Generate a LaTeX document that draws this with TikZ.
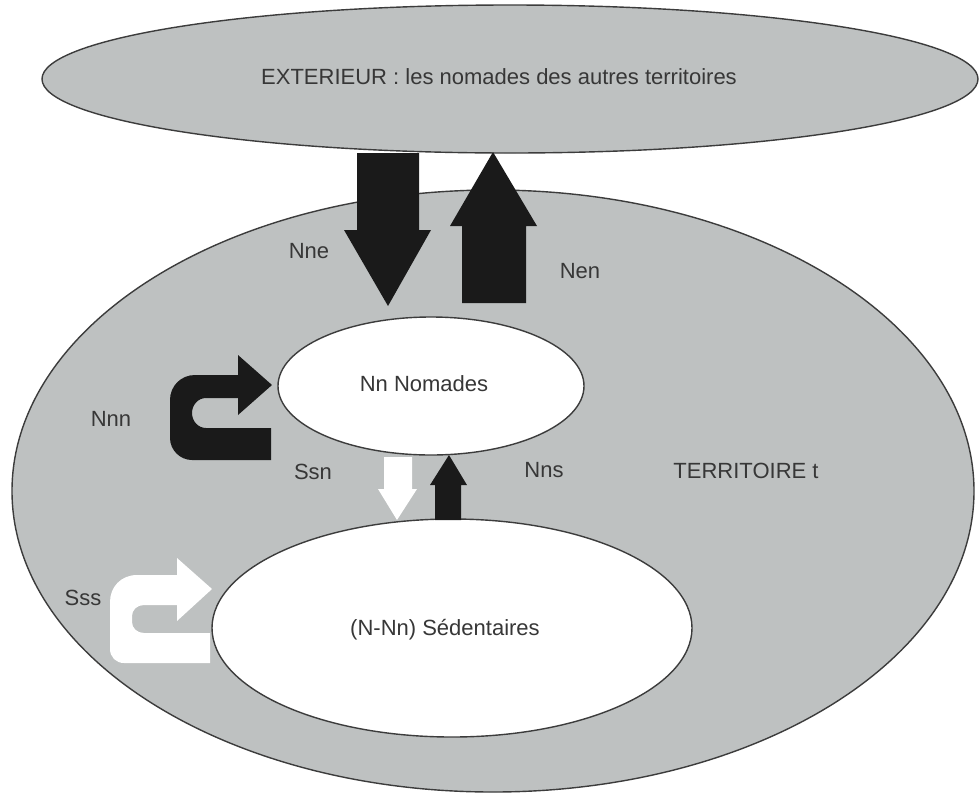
\documentclass[tikz,border=0pt]{standalone}
\usepackage{fontspec}
\setmainfont{Liberation Sans}
\usetikzlibrary{shapes.geometric}
\definecolor{zonegray}{RGB}{190,193,193}
\definecolor{edgegray}{RGB}{60,60,60}
\definecolor{inkblack}{RGB}{26,26,26}
\definecolor{txtgray}{RGB}{55,55,55}
\begin{document}
\begin{tikzpicture}[x=1pt,y=-1pt,
  zone/.style={ellipse, draw=edgegray, line width=1.4pt, inner sep=0pt},
  lbl/.style={font=\fontsize{22}{26}\selectfont, text=txtgray, inner sep=0pt},
  blk/.style={fill=inkblack},
  wht/.style={fill=white}]
\fill[white] (0,0) rectangle (980,796);
\useasboundingbox (0,0) rectangle (980,796);
% zones
\node[zone, fill=zonegray, minimum width=936pt, minimum height=148pt] (ext) at (510,79) {};
\node[zone, fill=zonegray, minimum width=962pt, minimum height=602pt] (terr) at (493,491) {};
\node[zone, fill=white, minimum width=306pt, minimum height=138pt] (nom) at (431,386) {};
\node[zone, fill=white, minimum width=480pt, minimum height=218pt] (sed) at (452,628) {};
% texts
\node[lbl] (tExt) at (499,77) {EXTERIEUR : les nomades des autres territoires};
\node[lbl] (tNom) at (424,384) {Nn Nomades};
\node[lbl] (tSed) at (445,630) {(N-Nn) Sédentaires};
\node[lbl] (tTerr) at (746,471) {TERRITOIRE t};
\node[lbl] (tNne) at (309,251) {Nne};
\node[lbl] (tNen) at (580,271) {Nen};
\node[lbl] (tNnn) at (111,419) {Nnn};
\node[lbl] (tSsn) at (313,472) {Ssn};
\node[lbl] (tNns) at (544,470) {Nns};
\node[lbl] (tSss) at (83,598) {Sss};
% big arrows between exterior and territory
\fill[blk] (357,153) -- (419,153) -- (419,230) -- (431,230) -- (388,306) -- (344,230) -- (357,230) -- cycle;
\fill[blk] (462,303) -- (526,303) -- (526,226) -- (537,226) -- (493,152) -- (450,226) -- (462,226) -- cycle;
% small arrows between nomades and sedentaires
\fill[wht] (384,457) -- (412,457) -- (412,489) -- (417,489) -- (397,520) -- (378,489) -- (384,489) -- cycle;
\fill[blk] (435,520) -- (461,520) -- (461,485) -- (467,485) -- (449,455) -- (430,485) -- (435,485) -- cycle;
% Nnn U-turn
\fill[blk] (271,460) -- (192,460) .. controls (180,460) and (170,450) .. (170,438)
  -- (170,400) .. controls (170,386) and (181,375) .. (195,375)
  -- (238,375) -- (238,355) -- (272,385) -- (238,415) -- (238,398)
  -- (206,398) .. controls (198,398) and (192,405) .. (192,413)
  .. controls (192,421) and (198,428) .. (206,428) -- (271,428) -- cycle;
% Sss U-turn
\fill[wht] (210,663) -- (124,663) .. controls (116,663) and (110,657) .. (110,649)
  -- (110,602) .. controls (110,587) and (121,575) .. (137,575)
  -- (177,575) -- (177,558) -- (212,589) -- (177,621) -- (177,605)
  -- (144,605) .. controls (137,605) and (132,610) .. (132,616)
  -- (132,622) .. controls (132,628) and (137,633) .. (144,633) -- (210,633) -- cycle;
\end{tikzpicture}
\end{document}
